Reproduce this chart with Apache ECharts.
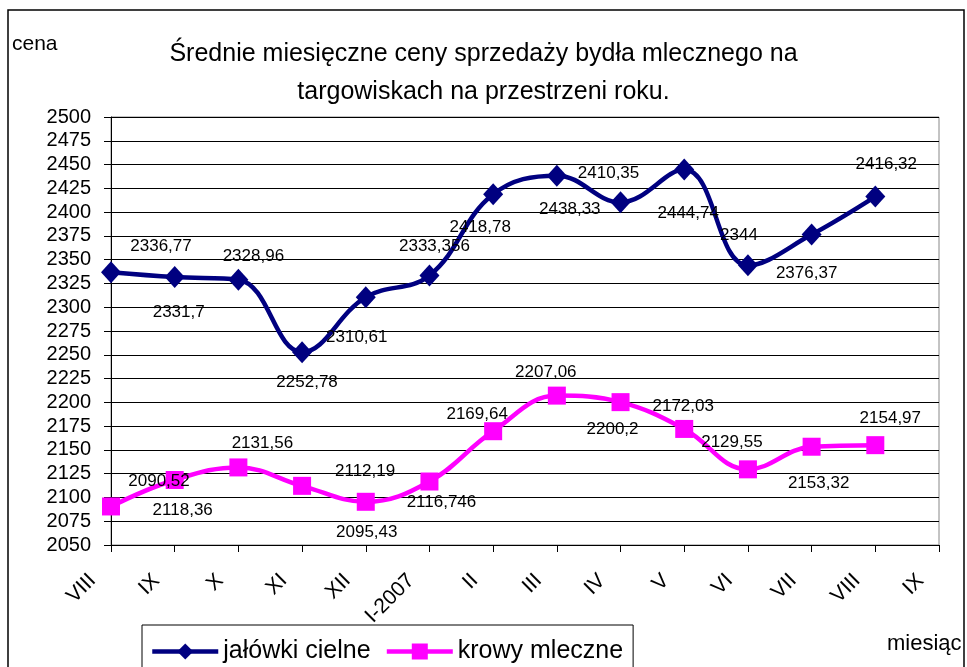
<!DOCTYPE html>
<html>
<head>
<meta charset="utf-8">
<script src="https://cdn.jsdelivr.net/npm/echarts@6/dist/echarts.min.js"></script>
<style>
html,body{margin:0;padding:0;background:#fff;}
#chart{width:967px;height:667px;}
</style>
</head>
<body>
<div id="chart"></div>
<script>
// ---- data ----
const categories = ['VIII','IX','X','XI','XII','I-2007','II','III','IV','V','VI','VII','VIII','IX'];
const jalowki = [2336.77, 2331.7, 2328.96, 2252.78, 2310.61, 2333.356, 2418.78, 2438.33, 2410.35, 2444.74, 2344, 2376.37, 2416.32];
const krowy = [2090.52, 2118.36, 2131.56, 2112.19, 2095.43, 2116.746, 2169.64, 2207.06, 2200.2, 2172.03, 2129.55, 2153.32, 2154.97];
const yMin = 2050, yMax = 2500, yStep = 25;
const seriesNames = ['jałówki cielne', 'krowy mleczne'];

// ---- label placement (style only, pixel offsets from each marker) ----
const jalowkiLabelOffsets = [[50,-26],[4,35],[15,-23],[5,30],[-9,40],[5,-29],[-13,33],[13,34],[-12,-29],[4,44],[-9,-30],[-5,39],[11,-32]];
const krowyLabelOffsets = [[48,-25],[8,30],[24,-24],[63,-15],[1,31],[12,21],[-16,-17],[-11,-23],[-8,27],[-1,-23],[-16,-27],[7,37],[15,-27]];

const FONT = "'Liberation Sans', Arial, sans-serif";
const fmt = p => String(p.value).replace('.', ',');

function build(values, offsets) {
  return values.map((v, i) => ({ value: v, label: { offset: offsets[i] } }));
}

const chart = echarts.init(document.getElementById('chart'), null, { renderer: 'canvas' });
chart.setOption({
  animation: false,
  backgroundColor: '#fff',
  textStyle: { fontFamily: FONT },
  title: {
    text: 'Średnie miesięczne ceny sprzedaży bydła mlecznego na\ntargowiskach na przestrzeni roku.',
    left: 'center',
    top: 30,
    textStyle: { fontFamily: FONT, fontSize: 25, fontWeight: 'normal', color: '#000', lineHeight: 38 }
  },
  graphic: [
    { type: 'rect', shape: { x: 8, y: 10, width: 956, height: 700 }, style: { fill: 'none', stroke: '#000', lineWidth: 1.5 }, z: -1 },
    { type: 'text', left: 12, top: 34, style: { text: 'cena', fontFamily: FONT, fontSize: 21, fill: '#000' } },
    { type: 'text', left: 887, top: 633, style: { text: 'miesiąc', fontFamily: FONT, fontSize: 22, fill: '#000' } }
  ],
  legend: {
    left: 142,
    top: 625,
    orient: 'horizontal',
    padding: [14, 10, 20, 8],
    borderColor: '#000',
    borderWidth: 1,
    itemWidth: 66,
    itemHeight: 20,
    itemGap: 14,
    lineStyle: { width: 4.5 },
    textStyle: { fontFamily: FONT, fontSize: 25, color: '#000' },
    data: seriesNames
  },
  grid: { left: 111, right: 28, top: 117, bottom: 122, show: true, borderColor: '#888', borderWidth: 1, containLabel: false },
  xAxis: {
    type: 'category',
    data: categories,
    boundaryGap: false,
    axisLine: { show: true, lineStyle: { color: '#000', width: 1 } },
    axisTick: { show: true, interval: 0, length: 7, lineStyle: { color: '#000' } },
    splitLine: { show: false },
    axisLabel: { interval: 0, rotate: 45, fontSize: 21, color: '#000', fontFamily: FONT, margin: 14, padding: [0, 26, 0, 0] }
  },
  yAxis: {
    type: 'value',
    min: yMin,
    max: yMax,
    interval: yStep,
    axisLine: { show: true, lineStyle: { color: '#000', width: 1 } },
    axisTick: { show: true, length: 7, lineStyle: { color: '#000' } },
    splitLine: { show: true, lineStyle: { color: '#000', width: 1 } },
    axisLabel: { fontSize: 20, color: '#000', fontFamily: FONT, margin: 20, formatter: v => String(v) }
  },
  series: [
    {
      name: seriesNames[0],
      type: 'line',
      data: build(jalowki, jalowkiLabelOffsets),
      smooth: 0.4,
      symbol: 'diamond',
      symbolSize: [20, 22],
      showAllSymbol: true,
      lineStyle: { color: '#000080', width: 4.5 },
      itemStyle: { color: '#000080' },
      label: { show: true, position: 'inside', formatter: fmt, color: '#000', fontSize: 17, fontFamily: FONT },
      emphasis: { disabled: true }
    },
    {
      name: seriesNames[1],
      type: 'line',
      data: build(krowy, krowyLabelOffsets),
      smooth: 0.4,
      symbol: 'rect',
      symbolSize: 18,
      showAllSymbol: true,
      lineStyle: { color: '#FF00FF', width: 4.5 },
      itemStyle: { color: '#FF00FF' },
      label: { show: true, position: 'inside', formatter: fmt, color: '#000', fontSize: 17, fontFamily: FONT },
      emphasis: { disabled: true }
    }
  ]
});
</script>
</body>
</html>
